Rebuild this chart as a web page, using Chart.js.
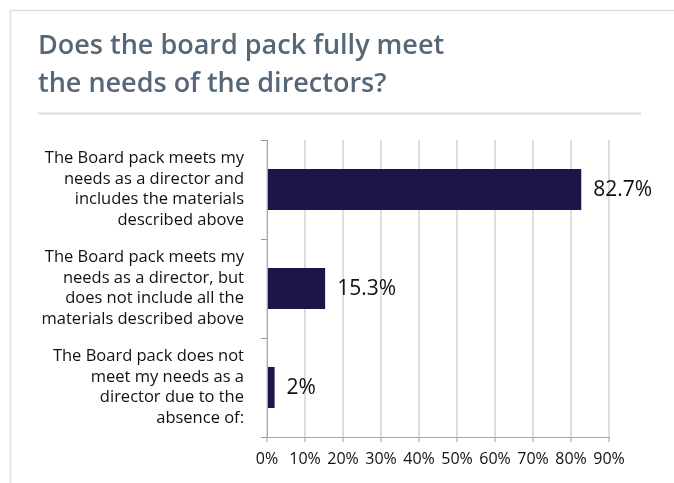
<!DOCTYPE html>
<html>
<head>
<meta charset="utf-8">
<script src="https://cdn.jsdelivr.net/npm/chart.js@4/dist/chart.umd.min.js"></script>
<style>
  html, body { margin: 0; padding: 0; background: #ffffff; }
  #wrap { width: 674px; height: 483px; position: relative; }
</style>
</head>
<body>
<div id="wrap"><canvas id="chart" width="674" height="483"></canvas></div>
<script>
// Survey question and answers
const titleLines = ['Does the board pack fully meet', 'the needs of the directors?'];
const categories = [
  ['The Board pack meets my', 'needs as a director and', 'includes the materials', 'described above'],
  ['The Board pack meets my', 'needs as a director, but', 'does not include all the', 'materials described above'],
  ['The Board pack does not', 'meet my needs as a', 'director due to the', 'absence of:']
];
// Share of respondents, percent
const shares = [82.7, 15.3, 2];
// Percent axis
const axisMin = 0;
const axisMax = 90;
const axisStep = 10;

const FONT = "'Open Sans', 'Liberation Sans', sans-serif";

// Card outline and the rule under the heading
const cardFrame = {
  id: 'cardFrame',
  beforeDraw(chart) {
    const ctx = chart.ctx;
    ctx.save();
    ctx.strokeStyle = '#dedede';
    ctx.lineWidth = 1.5;
    ctx.beginPath();
    ctx.moveTo(10.5, chart.height);
    ctx.lineTo(10.5, 10.5);
    ctx.lineTo(chart.width, 10.5);
    ctx.stroke();
    ctx.strokeStyle = '#dcdcdc';
    ctx.lineWidth = 2;
    ctx.beginPath();
    ctx.moveTo(38, 113.5);
    ctx.lineTo(641, 113.5);
    ctx.stroke();
    ctx.restore();
  }
};

// Percentage written after each bar
const barValues = {
  id: 'barValues',
  afterDatasetsDraw(chart) {
    const ctx = chart.ctx;
    const meta = chart.getDatasetMeta(0);
    const data = chart.data.datasets[0].data;
    ctx.save();
    ctx.font = '21px ' + FONT;
    ctx.fillStyle = '#111111';
    ctx.textAlign = 'left';
    ctx.textBaseline = 'middle';
    meta.data.forEach((bar, i) => {
      ctx.fillText(data[i] + '%', bar.x + 12, bar.y + 1);
    });
    ctx.restore();
  }
};

new Chart(document.getElementById('chart'), {
  type: 'bar',
  data: {
    labels: categories,
    datasets: [{
      data: shares,
      backgroundColor: '#1c1548',
      borderWidth: 0,
      barPercentage: 0.415,
      categoryPercentage: 1
    }]
  },
  plugins: [cardFrame, barValues],
  options: {
    indexAxis: 'y',
    responsive: false,
    animation: false,
    events: [],
    layout: { padding: { left: 38, right: 65, top: 0, bottom: 6 } },
    plugins: {
      legend: { display: false },
      tooltip: { enabled: false },
      title: {
        display: true,
        text: titleLines,
        align: 'start',
        color: '#56677a',
        font: { family: FONT, size: 27, weight: 600, lineHeight: '38px' },
        padding: { top: 27, bottom: 37 }
      }
    },
    scales: {
      x: {
        min: axisMin,
        max: axisMax,
        grid: {
          color: '#dedede',
          lineWidth: 2,
          tickLength: 5,
          tickColor: '#9a9a9a',
          tickWidth: 1
        },
        border: { color: '#a8a8a8', width: 1 },
        ticks: {
          stepSize: axisStep,
          padding: 8,
          color: '#111111',
          font: { family: FONT, size: 16 },
          callback: (v) => v + '%'
        },
        afterFit(scale) {
          scale.height = 40;
          scale.paddingLeft = 0;
          scale.paddingRight = 0;
        }
      },
      y: {
        grid: {
          display: true,
          drawOnChartArea: false,
          drawTicks: true,
          tickLength: 6,
          tickColor: '#9a9a9a',
          offset: true
        },
        border: { color: '#a8a8a8', width: 1 },
        ticks: {
          padding: 17,
          color: '#111111',
          font: { family: FONT, size: 16.5, lineHeight: '20.5px' }
        },
        afterFit(scale) {
          scale.width = 229;
          scale.paddingTop = 0;
          scale.paddingBottom = 0;
        }
      }
    }
  }
});
</script>
</body>
</html>
